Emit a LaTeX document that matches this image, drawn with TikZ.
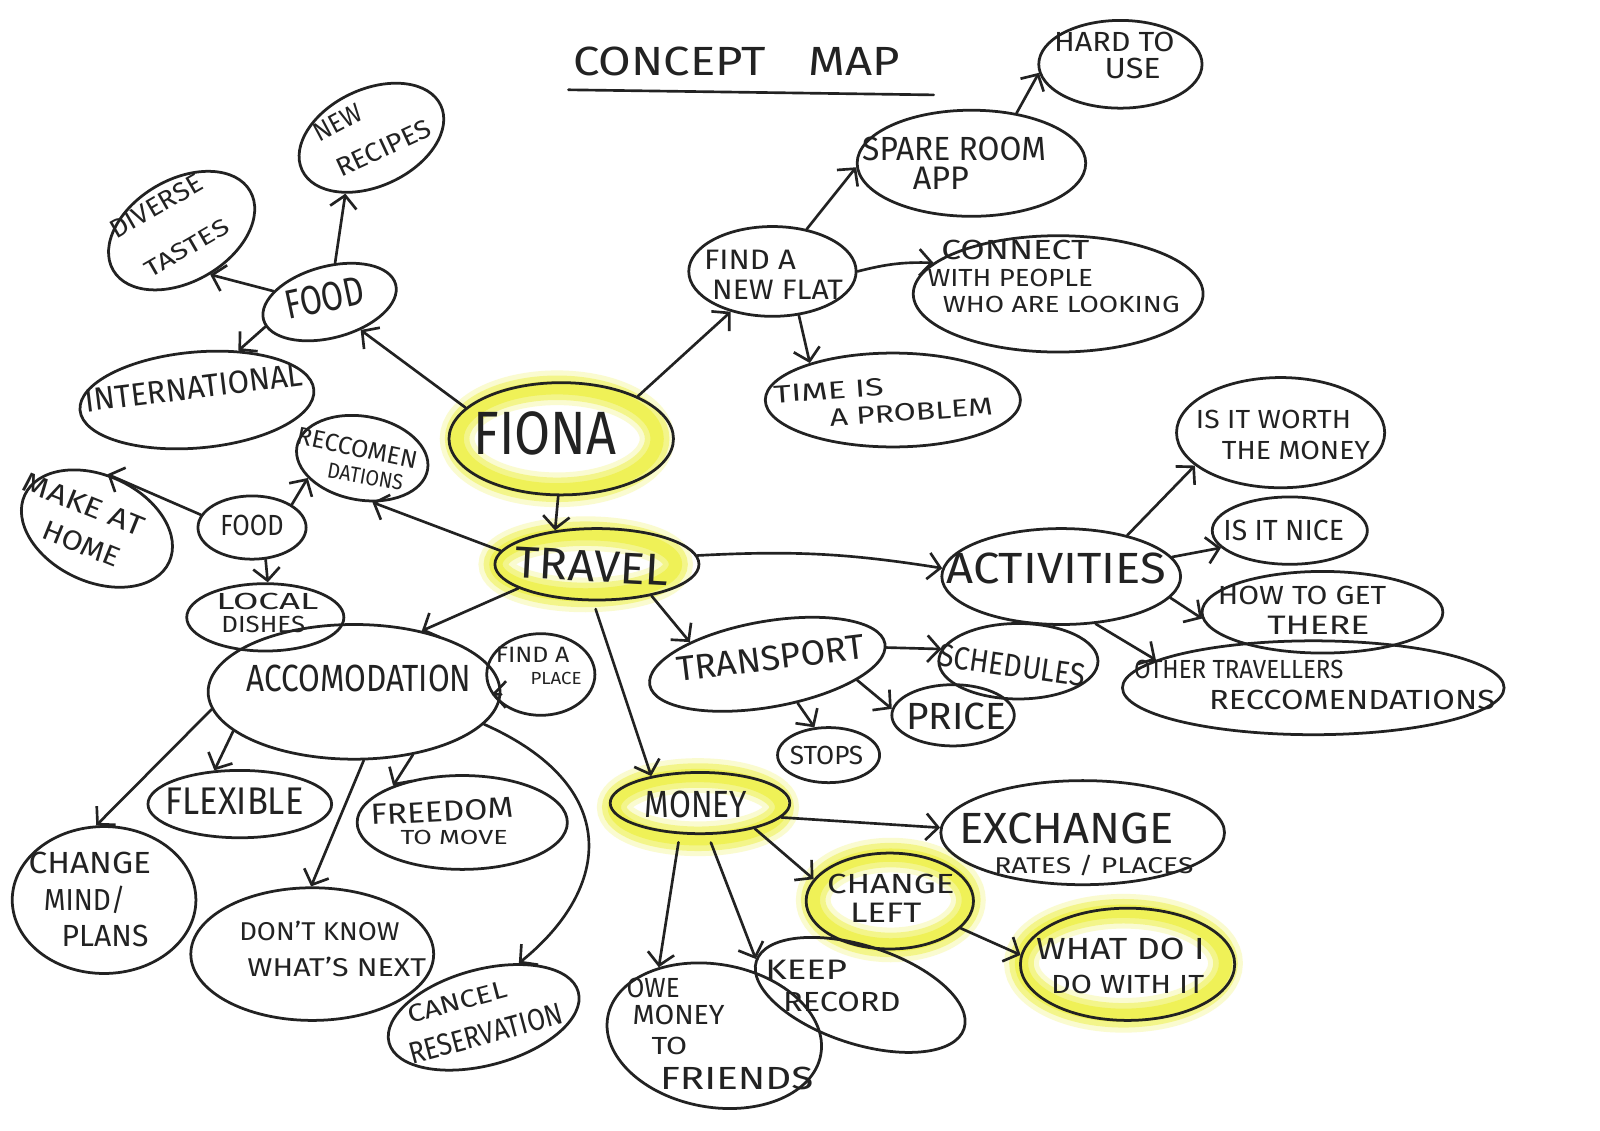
\documentclass[tikz,border=0pt]{standalone}
\usepackage{fontspec}
\setmainfont{Fira Sans}
\usetikzlibrary{shapes.geometric,arrows.meta}
\definecolor{ink}{HTML}{222222}
\definecolor{hl}{RGB}{238,240,70}
\newcommand{\hw}[3]{\resizebox{#1pt}{#2pt}{#3}}
\begin{document}
\begin{tikzpicture}[x=1pt,y=-1pt,
  bub/.style={draw=ink, ellipse, line width=2.7pt, inner sep=0pt},
  txt/.style={inner sep=0pt, text=ink},
  arr/.style={draw=ink, line width=2.6pt, line cap=round, -{Straight Barb[length=12pt,width=26pt,line width=2.6pt]}},
  hlA/.style={draw=hl, line width=34pt, opacity=.25},
  hlB/.style={draw=hl, line width=24pt, opacity=.5},
  hlC/.style={draw=hl, line width=13pt, opacity=.75}]
\useasboundingbox[fill=white] (0,0) rectangle (1568,1108);

% highlights
\foreach \cx/\cy/\rx/\ry in {546/430/98/50, 574/553/88/30, 684/791/82/31, 873/882/76/44, 1101/944/100/51}{
  \draw[hlA] (\cx,\cy) ellipse [x radius=\rx pt, y radius=\ry pt];
  \draw[hlB] (\cx,\cy) ellipse [x radius=\rx pt, y radius=\ry pt];
  \draw[hlC] (\cx,\cy) ellipse [x radius=\rx pt, y radius=\ry pt];
}

% title
\node[txt] (title) at (722,60) {\hw{320}{28}{CONCEPT\hspace{0.9em}MAP}};
\draw[ink, line width=2.6pt, line cap=round] (557,88) -- (915,93);

% ellipses
\node[bub, minimum width=160pt, minimum height=86pt] (hard) at (1098,63) {};
\node[bub, minimum width=224pt, minimum height=104pt] (spare) at (952,160) {};
\node[bub, minimum width=164pt, minimum height=88pt] (flat) at (757,266) {};
\node[bub, minimum width=284pt, minimum height=114pt] (connect) at (1037,288) {};
\node[bub, minimum width=250pt, minimum height=92pt] (time) at (875,392) {};
\node[bub, minimum width=150pt, minimum height=95pt, rotate=25] (recipes) at (364,135) {};
\node[bub, minimum width=155pt, minimum height=100pt, rotate=30] (diverse) at (178,226) {};
\node[bub, minimum width=134pt, minimum height=70pt, rotate=15] (food1) at (323,296) {};
\node[bub, minimum width=230pt, minimum height=94pt, rotate=5] (intl) at (193,392) {};
\node[bub, minimum width=220pt, minimum height=110pt] (fiona) at (550,430) {};
\node[bub, minimum width=130pt, minimum height=82pt, rotate=-10] (recco) at (355,449) {};
\node[bub, minimum width=156pt, minimum height=104pt, rotate=-25] (make) at (95,518) {};
\node[bub, minimum width=106pt, minimum height=62pt] (food2) at (247,517) {};
\node[bub, minimum width=154pt, minimum height=66pt] (local) at (260,605) {};
\node[bub, minimum width=200pt, minimum height=70pt] (travel) at (585,553) {};
\node[bub, minimum width=286pt, minimum height=132pt] (acc) at (347,678) {};
\node[bub, minimum width=106pt, minimum height=80pt] (place) at (530,661) {};
\node[bub, minimum width=180pt, minimum height=66pt] (flex) at (235,788) {};
\node[bub, minimum width=206pt, minimum height=92pt] (freedom) at (453,806) {};
\node[bub, minimum width=180pt, minimum height=144pt] (change) at (102,882) {};
\node[bub, minimum width=238pt, minimum height=130pt] (dontknow) at (306,935) {};
\node[bub, minimum width=192pt, minimum height=94pt, rotate=15] (cancel) at (474,997) {};
\node[bub, minimum width=176pt, minimum height=60pt] (money) at (686,787) {};
\node[bub, minimum width=278pt, minimum height=102pt] (exchange) at (1061,816) {};
\node[bub, minimum width=164pt, minimum height=94pt] (changeleft) at (872,883) {};
\node[bub, minimum width=210pt, minimum height=110pt] (what) at (1105,945) {};
\node[bub, minimum width=212pt, minimum height=140pt, rotate=-10] (owe) at (700,1015) {};
\node[bub, minimum width=214pt, minimum height=96pt, rotate=-18] (keep) at (843,975) {};
\node[bub, minimum width=234pt, minimum height=84pt, rotate=10] (transport) at (752,651) {};
\node[bub, minimum width=156pt, minimum height=74pt] (sched) at (998,648) {};
\node[bub, minimum width=120pt, minimum height=60pt] (price) at (934,701) {};
\node[bub, minimum width=100pt, minimum height=54pt] (stops) at (812,740) {};
\node[bub, minimum width=234pt, minimum height=94pt] (activities) at (1040,565) {};
\node[bub, minimum width=204pt, minimum height=108pt] (worth) at (1255,424) {};
\node[bub, minimum width=152pt, minimum height=66pt] (nice) at (1264,520) {};
\node[bub, minimum width=236pt, minimum height=80pt] (howto) at (1296,600) {};
\node[bub, minimum width=374pt, minimum height=92pt] (other) at (1287,674) {};

% connectors
\draw[arr] (spare.48) -- (hard.186);
\draw[arr] (flat.51) -- (spare.182);
\draw[arr] (flat.0) to[bend left=8] (connect.166);
\draw[arr] (flat.-59) -- (time.156);
\draw[arr] (fiona.162) -- (food1.-57);
\draw[arr] (fiona.29) -- (flat.224);
\draw[arr] (fiona.-93) -- (travel.141);
\draw[arr] (food1.67) -- (recipes.-140);
\draw[arr] (food1.154) -- (diverse.-87);
\draw[arr] (food1.-174) -- (intl.45);
\draw[arr] (food2.166) -- (make.104);
\draw[arr] (food2.30) -- (recco.-150);
\draw[arr] (food2.-67) -- (local.86);
\draw[arr] (travel.172) -- (recco.-67);
\draw[arr] (travel.-163) -- (acc.42);
\draw[arr] (travel.5) to[bend left=6] (activities.176);
\draw[arr] (travel.-30) -- (transport.154);
\draw[arr, shorten <=8pt] (travel.-96) -- (money.151);
\draw[arr] (acc.-1) -- (place.-158);
\draw[arr] (acc.-162) -- (flex.127);
\draw[arr] (acc.-47) -- (freedom.152);
\draw[arr] (acc.-173) -- (change.96);
\draw[arr] (acc.-82) -- (dontknow.91);
\draw[arr] (acc.-14) .. controls (610,770) and (600,870) .. (cancel.42);
\draw[arr] (money.-10) -- (exchange.178);
\draw[arr] (money.-25) -- (changeleft.164);
\draw[arr, shorten <=8pt] (money.-123) -- (owe.139);
\draw[arr, shorten <=8pt] (money.-76) -- (keep.179);
\draw[arr] (changeleft.-21) -- (what.175);
\draw[arr] (transport.-2) -- (sched.171);
\draw[arr] (transport.-20) -- (price.174);
\draw[arr] (transport.-62) -- (stops.117);
\draw[arr] (activities.32) -- (worth.201);
\draw[arr] (activities.10) -- (nice.-166);
\draw[arr] (activities.-11) -- (howto.183);
\draw[arr] (activities.-54) -- (other.170);

% texts
\node[txt] (tHard1) at (1092,41) {\hw{118}{19}{HARD TO}};
\node[txt] (tHard2) at (1110,67) {\hw{55}{20}{USE}};
\node[txt] (tSpare1) at (935,146) {\hw{180}{23}{SPARE ROOM}};
\node[txt] (tSpare2) at (922,175) {\hw{55}{22}{APP}};
\node[txt] (tFlat1) at (735,255) {\hw{90}{19}{FIND A}};
\node[txt] (tFlat2) at (762,284) {\hw{128}{19}{NEW FLAT}};
\node[txt] (tCon1) at (995,245) {\hw{145}{19}{CONNECT}};
\node[txt] (tCon2) at (990,272) {\hw{162}{17}{WITH PEOPLE}};
\node[txt] (tCon3) at (1040,298) {\hw{232}{16}{WHO ARE LOOKING}};
\node[txt, rotate=4] (tTime1) at (812,383) {\hw{108}{17}{TIME IS}};
\node[txt, rotate=4] (tTime2) at (893,404) {\hw{160}{17}{A PROBLEM}};
\node[txt, rotate=28] (tRec1) at (331,120) {\hw{50}{18}{NEW}};
\node[txt, rotate=25] (tRec2) at (376,145) {\hw{100}{18}{RECIPES}};
\node[txt, rotate=30] (tDiv1) at (153,202) {\hw{100}{18}{DIVERSE}};
\node[txt, rotate=30] (tDiv2) at (183,243) {\hw{92}{16}{TASTES}};
\node[txt, rotate=12] (tFood1) at (318,292) {\hw{78}{28}{FOOD}};
\node[txt, rotate=7] (tIntl) at (190,380) {\hw{215}{22}{INTERNATIONAL}};
\node[txt] (tFiona) at (534,425) {\hw{140}{42}{FIONA}};
\node[txt, rotate=-12] (tRecco1) at (350,439) {\hw{120}{17}{RECCOMEN}};
\node[txt, rotate=-10] (tRecco2) at (358,467) {\hw{75}{15}{DATIONS}};
\node[txt, rotate=-22] (tMake1) at (82,494) {\hw{125}{19}{MAKE AT}};
\node[txt, rotate=-22] (tMake2) at (80,533) {\hw{80}{19}{HOME}};
\node[txt] (tFood2) at (247,515) {\hw{62}{20}{FOOD}};
\node[txt] (tLocal1) at (262,589) {\hw{100}{16}{LOCAL}};
\node[txt] (tLocal2) at (258,612) {\hw{82}{16}{DISHES}};
\node[txt, rotate=-3] (tTravel) at (580,555) {\hw{150}{30}{TRAVEL}};
\node[txt] (tAcc) at (352,665) {\hw{220}{26}{ACCOMODATION}};
\node[txt] (tPlace1) at (522,642) {\hw{72}{15}{FIND A}};
\node[txt] (tPlace2) at (545,665) {\hw{50}{12}{PLACE}};
\node[txt, rotate=7] (tTrans) at (755,645) {\hw{185}{24}{TRANSPORT}};
\node[txt, rotate=-8] (tSched) at (992,652) {\hw{145}{22}{SCHEDULES}};
\node[txt] (tPrice) at (937,702) {\hw{98}{26}{PRICE}};
\node[txt] (tStops) at (810,740) {\hw{72}{18}{STOPS}};
\node[txt] (tAct) at (1035,557) {\hw{215}{30}{ACTIVITIES}};
\node[txt] (tWorth1) at (1248,411) {\hw{152}{18}{IS IT WORTH}};
\node[txt] (tWorth2) at (1270,441) {\hw{145}{18}{THE MONEY}};
\node[txt] (tNice) at (1258,520) {\hw{118}{20}{IS IT NICE}};
\node[txt] (tHow1) at (1276,584) {\hw{165}{18}{HOW TO GET}};
\node[txt] (tHow2) at (1292,613) {\hw{100}{18}{THERE}};
\node[txt] (tOther1) at (1214,656) {\hw{205}{18}{OTHER TRAVELLERS}};
\node[txt] (tOther2) at (1325,686) {\hw{280}{19}{RECCOMENDATIONS}};
\node[txt] (tFlex) at (230,785) {\hw{135}{26}{FLEXIBLE}};
\node[txt, rotate=3] (tFree1) at (433,795) {\hw{140}{20}{FREEDOM}};
\node[txt] (tFree2) at (445,821) {\hw{105}{14}{TO MOVE}};
\node[txt] (tChange1) at (88,846) {\hw{120}{21}{CHANGE}};
\node[txt] (tChange2) at (83,882) {\hw{80}{24}{MIND/}};
\node[txt] (tChange3) at (103,917) {\hw{85}{21}{PLANS}};
\node[txt] (tDont1) at (313,912) {\hw{157}{19}{DON'T KNOW}};
\node[txt] (tDont2) at (330,948) {\hw{175}{19}{WHAT'S NEXT}};
\node[txt, rotate=15] (tCancel1) at (448,982) {\hw{100}{17}{CANCEL}};
\node[txt, rotate=15] (tCancel2) at (476,1013) {\hw{155}{21}{RESERVATION}};
\node[txt] (tMoney) at (682,788) {\hw{100}{26}{MONEY}};
\node[txt] (tEx1) at (1045,812) {\hw{210}{30}{EXCHANGE}};
\node[txt] (tEx2) at (1072,848) {\hw{195}{18}{RATES / PLACES}};
\node[txt] (tCL1) at (873,866) {\hw{125}{19}{CHANGE}};
\node[txt] (tCL2) at (868,895) {\hw{70}{19}{LEFT}};
\node[txt] (tWhat1) at (1098,930) {\hw{165}{21}{WHAT DO I}};
\node[txt] (tWhat2) at (1105,965) {\hw{150}{18}{DO WITH IT}};
\node[txt] (tOwe1) at (640,968) {\hw{52}{19}{OWE}};
\node[txt] (tOwe2) at (665,995) {\hw{90}{19}{MONEY}};
\node[txt] (tOwe3) at (656,1025) {\hw{35}{17}{TO}};
\node[txt] (tOwe4) at (722,1057) {\hw{150}{22}{FRIENDS}};
\node[txt] (tKeep1) at (790,950) {\hw{80}{19}{KEEP}};
\node[txt] (tKeep2) at (825,982) {\hw{115}{19}{RECORD}};
\end{tikzpicture}
\end{document}
